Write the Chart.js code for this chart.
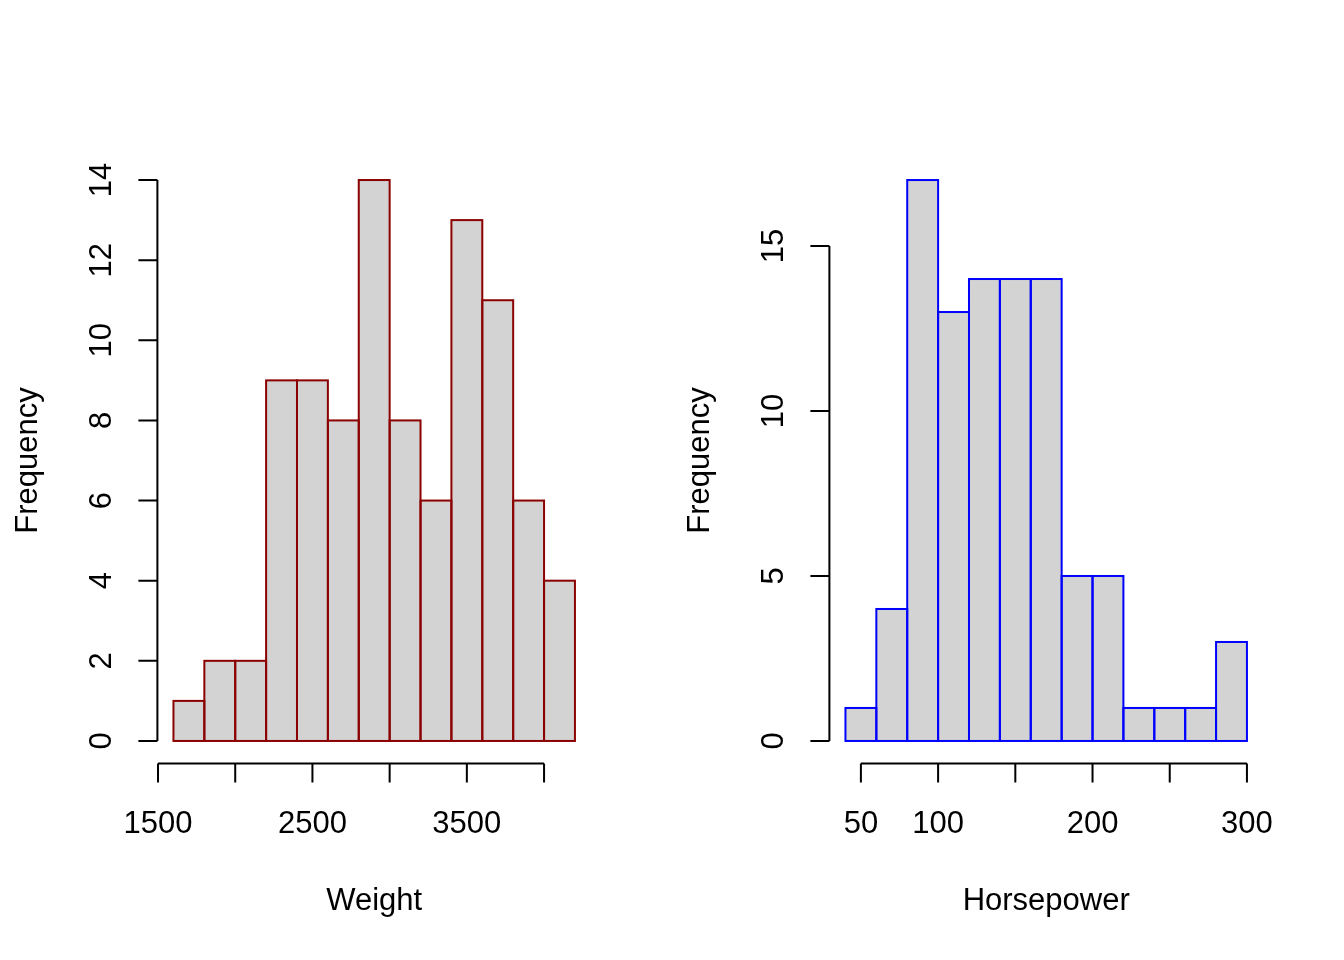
<!DOCTYPE html>
<html>
<head>
<meta charset="utf-8">
<script src="https://cdn.jsdelivr.net/npm/chart.js@4"></script>
<style>
  html, body { margin: 0; padding: 0; background: #fff; }
  .panel { position: absolute; top: 0; width: 672px; height: 960px; }
  #left { left: 0; }
  #right { left: 672px; }
</style>
</head>
<body>
<div class="panel" id="left"><canvas id="weightChart" width="672" height="960"></canvas></div>
<div class="panel" id="right"><canvas id="hpChart" width="672" height="960"></canvas></div>
<script>
// histogram bins (left edges) and counts
const weightBreaks = [1600, 1800, 2000, 2200, 2400, 2600, 2800, 3000, 3200, 3400, 3600, 3800, 4000, 4200];
const weightCounts = [1, 2, 2, 9, 9, 8, 14, 8, 6, 13, 11, 6, 4];
const weightXTicks = [1500, 2000, 2500, 3000, 3500, 4000];
const weightXLabels = ["1500", "", "2500", "", "3500", ""];
const weightYTicks = [0, 2, 4, 6, 8, 10, 12, 14];

const hpBreaks = [40, 60, 80, 100, 120, 140, 160, 180, 200, 220, 240, 260, 280, 300];
const hpCounts = [1, 4, 17, 13, 14, 14, 14, 5, 5, 1, 1, 1, 3];
const hpXTicks = [50, 100, 150, 200, 250, 300];
const hpXLabels = ["50", "100", "", "200", "", "300"];
const hpYTicks = [0, 5, 10, 15];

const FONT = '31px "Liberation Sans", Arial, Helvetica, sans-serif';

// R style axes, drawn off the chart's own scales
const rAxes = {
  id: 'rAxes',
  afterDatasetsDraw(chart, args, opts) {
    const ctx = chart.ctx;
    const area = chart.chartArea;
    const xs = chart.scales.x, ys = chart.scales.y;

    // bar outlines, centred on the edges like R's rect()
    const meta = chart.getDatasetMeta(0);
    ctx.save();
    ctx.strokeStyle = opts.border;
    ctx.lineWidth = 2;
    meta.data.forEach(bar => {
      const p = bar.getProps(['x', 'y', 'base', 'width'], true);
      ctx.strokeRect(p.x - p.width / 2, p.y, p.width, p.base - p.y);
    });
    ctx.restore();

    ctx.save();
    ctx.strokeStyle = '#000';
    ctx.fillStyle = '#000';
    ctx.lineWidth = 2;
    ctx.font = FONT;

    // x axis
    const xa = opts.xTicks.map(v => xs.getPixelForValue(v));
    const yb = area.bottom;
    ctx.beginPath();
    ctx.moveTo(xa[0], yb);
    ctx.lineTo(xa[xa.length - 1], yb);
    xa.forEach(px => { ctx.moveTo(px, yb); ctx.lineTo(px, yb + 19); });
    ctx.stroke();
    ctx.textAlign = 'center';
    ctx.textBaseline = 'alphabetic';
    xa.forEach((px, i) => ctx.fillText(opts.xLabels[i], px, yb + 70));
    ctx.fillText(opts.xTitle, (area.left + area.right) / 2, yb + 147);

    // y axis
    const ya = opts.yTicks.map(v => ys.getPixelForValue(v));
    const xl = area.left;
    ctx.beginPath();
    ctx.moveTo(xl, ya[0]);
    ctx.lineTo(xl, ya[ya.length - 1]);
    ya.forEach(py => { ctx.moveTo(xl, py); ctx.lineTo(xl - 19, py); });
    ctx.stroke();
    ya.forEach((py, i) => {
      ctx.save();
      ctx.translate(xl - 46, py);
      ctx.rotate(-Math.PI / 2);
      ctx.fillText(String(opts.yTicks[i]), 0, 0);
      ctx.restore();
    });
    ctx.save();
    ctx.translate(xl - 120, (area.top + area.bottom) / 2);
    ctx.rotate(-Math.PI / 2);
    ctx.fillText('Frequency', 0, 0);
    ctx.restore();
    ctx.restore();
  }
};

function makeHist(canvasId, breaks, counts, xTicks, xLabels, yTicks, border, xTitle) {
  const lo = breaks[0], hi = breaks[breaks.length - 1];
  const ext = (hi - lo) * 0.04;
  const ymax = Math.max(...counts);
  const data = counts.map((c, i) => ({ x: (breaks[i] + breaks[i + 1]) / 2, y: c }));
  return new Chart(document.getElementById(canvasId), {
    type: 'bar',
    data: {
      datasets: [{
        data,
        backgroundColor: '#D3D3D3',
        borderWidth: 0,
        barPercentage: 1,
        categoryPercentage: 1,
        inflateAmount: 0
      }]
    },
    options: {
      responsive: false,
      animation: false,
      events: [],
      layout: { padding: { left: 157.4, right: 81, top: 157.6, bottom: 196.6 } },
      plugins: {
        legend: { display: false },
        tooltip: { enabled: false },
        rAxes: { xTicks, xLabels, yTicks, border, xTitle }
      },
      scales: {
        x: {
          type: 'linear', display: false, offset: false,
          min: lo - ext, max: hi + ext,
          afterBuildTicks: s => { s.ticks = xTicks.map(v => ({ value: v })); }
        },
        y: {
          type: 'linear', display: false,
          min: -ymax * 0.04, max: ymax * 1.04
        }
      }
    },
    plugins: [rAxes]
  });
}

makeHist('weightChart', weightBreaks, weightCounts, weightXTicks, weightXLabels, weightYTicks, '#8B0000', 'Weight');
makeHist('hpChart', hpBreaks, hpCounts, hpXTicks, hpXLabels, hpYTicks, '#0000FF', 'Horsepower');
</script>
</body>
</html>
